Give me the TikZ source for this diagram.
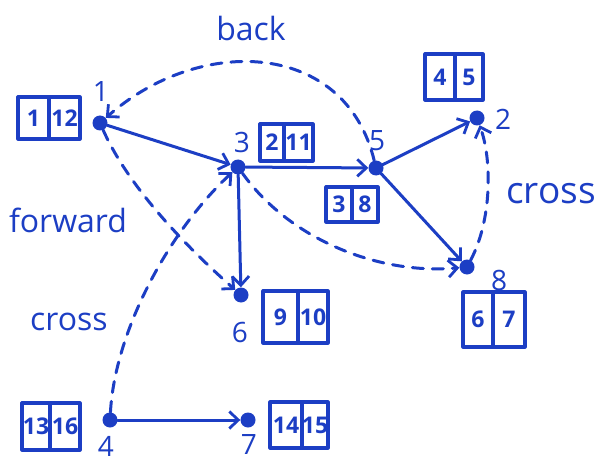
\documentclass[tikz,border=0pt]{standalone}
\usepackage{fontspec}
\setmainfont{Open Sans}
\usetikzlibrary{arrows.meta}
\definecolor{ink}{RGB}{28,62,196}

% discovery/finish box: name, left x, divider x, right x, top y, bottom y, d, f
\newcommand\tallybox[8]{%
  \draw[boxline] (#2,#5) rectangle (#4,#6) (#3,#5) -- (#3,#6);
  \node[cellnum] (#1d) at ({(#2+#3)/2},{(#5+#6)/2}) {#7};
  \node[cellnum] (#1f) at ({(#3+#4)/2},{(#5+#6)/2}) {#8};
}

\begin{document}
\begin{tikzpicture}[x=1pt,y=-1pt,
  dot/.style={circle,fill=ink,inner sep=0pt,minimum size=15pt},
  edge/.style={draw=ink,line width=3pt,line cap=round,
    -{Straight Barb[length=9pt,width=17pt,line width=2.8pt]}},
  tree/.style={edge},
  nontree/.style={edge,dash pattern=on 11pt off 9pt},
  vlabel/.style={text=ink,anchor=base,inner sep=0pt,font=\fontsize{28}{28}\selectfont},
  kind/.style={text=ink,anchor=base,inner sep=0pt},
  cellnum/.style={text=ink,inner sep=0pt,font=\fontsize{23}{23}\selectfont\bfseries},
  boxline/.style={draw=ink,line width=3.2pt,line join=round}]

\fill[white] (0,0) rectangle (604,465);
\useasboundingbox (0,0) rectangle (604,465);

% vertices
\node[dot] (n1) at (100,123) {};
\node[dot] (n3) at (238,167) {};
\node[dot] (n5) at (376,168) {};
\node[dot] (n2) at (477,118) {};
\node[dot] (n8) at (467,267) {};
\node[dot] (n6) at (241,295) {};
\node[dot] (n4) at (110,420) {};
\node[dot] (n7) at (248,420) {};

% vertex names
\node[vlabel] (l1) at (101,102) {1};
\node[vlabel] (l3) at (242,153) {3};
\node[vlabel] (l5) at (377,150) {5};
\node[vlabel] (l2) at (503,130) {2};
\node[vlabel] (l8) at (499,290) {8};
\node[vlabel] (l6) at (240,342) {6};
\node[vlabel] (l4) at (106,456) {4};
\node[vlabel] (l7) at (249,454) {7};

% discovery / finish times
\tallybox{b1}{18}{49}{80}{97}{139}{1}{12}
\tallybox{b3}{260}{284}{313}{124}{161}{2}{11}
\tallybox{b2}{425}{455}{483}{54}{100}{4}{5}
\tallybox{b5}{326}{352}{378}{187}{222}{3}{8}
\tallybox{b6}{263}{298}{328}{291}{343}{9}{10}
\tallybox{b7}{270}{302}{328}{402}{448}{14}{15}
\tallybox{b4}{22}{50}{80}{403}{450}{13}{16}
\tallybox{b8}{463}{493}{525}{292}{347}{6}{7}

% tree edges
\draw[tree] (n1) -- (n3);
\draw[tree] (n3) -- (n5);
\draw[tree] (n3) -- (n6);
\draw[tree] (n5) -- (n2);
\draw[tree] (n5) -- (n8);
\draw[tree] (n4) -- (n7);

% back, forward and cross edges
\draw[nontree] (n5) .. controls (345,40) and (200,35) .. (n1);
\draw[nontree] (n1) .. controls (130,190) and (190,250) .. (n6);
\draw[nontree] (n4) .. controls (115,330) and (170,230) .. (n3);
\draw[nontree] (n3) .. controls (290,240) and (380,275) .. (n8);
\draw[nontree] (n8) .. controls (492,220) and (492,160) .. (n2);

% edge kinds
\node[kind,font=\fontsize{32}{32}\selectfont] (kback) at (251,41) {back};
\node[kind,font=\fontsize{32}{32}\selectfont] (kfwd) at (68,232) {forward};
\node[kind,font=\fontsize{32}{32}\selectfont] (kcrossa) at (69,330) {cross};
\node[kind,font=\fontsize{37}{37}\selectfont] (kcrossb) at (551,203) {cross};
\end{tikzpicture}
\end{document}
